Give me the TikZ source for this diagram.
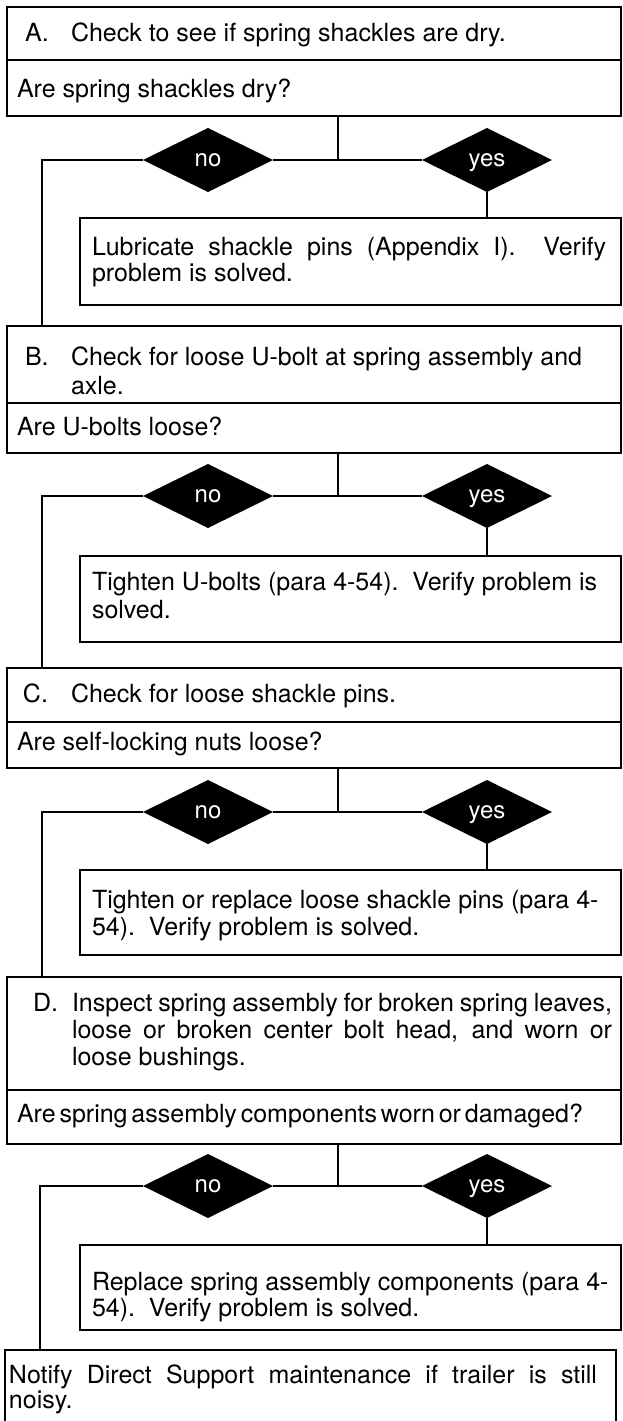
\documentclass[tikz,border=0pt]{standalone}
\usepackage{fontspec}
\setmainfont{TeX Gyre Heros}
\usetikzlibrary{shapes.geometric}
\newcommand\jl[2]{{\spaceskip=0.1em plus 1fil\relax\hbox to #1pt{#2}}}
\begin{document}
\begin{tikzpicture}[x=1pt,y=-1pt,
  box/.style={draw, line width=1.9pt, anchor=north west, inner sep=0pt, outer sep=0pt},
  txt/.style={anchor=base west, inner sep=0pt, outer sep=0pt, font=\fontsize{25}{27}\selectfont},
  dia/.style={diamond, fill=black, draw=none, minimum width=130pt, minimum height=64pt, inner sep=0pt, outer sep=0pt, text=white, text height=12.5pt, text depth=0pt, font=\fontsize{24}{26}\selectfont},
  wire/.style={line width=1.9pt}]
\useasboundingbox (0,0) rectangle (623,1421);
\fill[white] (0,0) rectangle (623,1421);

% ---------------- Section A
\node[box, minimum width=614pt, minimum height=109pt] (A) at (7,7) {};
\draw[wire] (A.west |- 0,60) -- (A.east |- 0,60);
\node[txt] (tAl) at (25,42) {A.};
\node[txt] (tA) at (71,42) {Check to see if spring shackles are dry.};
\node[txt] (qA) at (17,97) {Are spring shackles dry?};
\coordinate (jA) at (338,160);
\coordinate (cA) at (42,160);
\node[dia] (dnA) at (208,160) {no};
\node[dia] (dyA) at (487,160) {yes};
\node[box, minimum width=541pt, minimum height=87pt] (rA) at (80,218) {};
\node[txt] (rA1) at (92,255) {\jl{514}{Lubricate shackle pins (Appendix I).\ \ Verify}};
\node[txt] (rA2) at (92,281) {problem is solved.};

% ---------------- Section B
\node[box, minimum width=614pt, minimum height=127pt] (B) at (7,326) {};
\draw[wire] (B.west |- 0,403) -- (B.east |- 0,403);
\node[txt] (tBl) at (25,365) {B.};
\node[txt] (tB1) at (71,365) {Check for loose U-bolt at spring assembly and};
\node[txt] (tB2) at (71,394) {axle.};
\node[txt] (qB) at (17,435) {Are U-bolts loose?};
\coordinate (jB) at (338,496);
\coordinate (cB) at (42,496);
\node[dia] (dnB) at (208,496) {no};
\node[dia] (dyB) at (487,496) {yes};
\node[box, minimum width=541pt, minimum height=86pt] (rB) at (80,556) {};
\node[txt] (rB1) at (92,590) {Tighten U-bolts (para 4-54).\ \ Verify problem is};
\node[txt] (rB2) at (92,618) {solved.};

% ---------------- Section C
\node[box, minimum width=614pt, minimum height=100pt] (C) at (7,668) {};
\draw[wire] (C.west |- 0,722) -- (C.east |- 0,722);
\node[txt] (tCl) at (23,702) {C.};
\node[txt] (tC) at (71,702) {Check for loose shackle pins.};
\node[txt] (qC) at (17,750) {Are self-locking nuts loose?};
\coordinate (jC) at (338,812);
\coordinate (cC) at (42,812);
\node[dia] (dnC) at (208,812) {no};
\node[dia] (dyC) at (487,812) {yes};
\node[box, minimum width=541pt, minimum height=85pt] (rC) at (80,870) {};
\node[txt] (rC1) at (92,908) {Tighten or replace loose shackle pins (para 4-};
\node[txt] (rC2) at (92,935) {54).\ \ Verify problem is solved.};

% ---------------- Section D
\node[box, minimum width=614pt, minimum height=167pt] (D) at (7,977) {};
\draw[wire] (D.west |- 0,1090) -- (D.east |- 0,1090);
\node[txt] (tDl) at (33,1011) {D.};
\node[txt] (tD1) at (72,1011) {\jl{540}{Inspect spring assembly for broken spring leaves,}};
\node[txt] (tD2) at (72,1038) {\jl{540}{loose or broken center bolt head, and worn or}};
\node[txt] (tD3) at (72,1065) {loose bushings.};
\node[txt] (qD) at (17,1122) {\jl{566}{Are spring assembly components worn or damaged?}};
\coordinate (jD) at (338,1186);
\coordinate (cD) at (40,1186);
\node[dia] (dnD) at (208,1186) {no};
\node[dia] (dyD) at (487,1186) {yes};
\node[box, minimum width=541pt, minimum height=85pt] (rD) at (80,1245) {};
\node[txt] (rD1) at (92,1290) {Replace spring assembly components (para 4-};
\node[txt] (rD2) at (92,1316) {54).\ \ Verify problem is solved.};

% ---------------- Final box
\node[box, minimum width=611pt, minimum height=80pt] (N) at (5,1350) {};
\node[txt] (N1) at (9,1383) {\jl{588}{Notify Direct Support maintenance if trailer is still}};
\node[txt] (N2) at (9,1408) {noisy.};

% ---------------- Connectors
\foreach \s/\n in {A/B, B/C, C/D, D/N} {
  \draw[wire] (\s.south -| j\s) -- (j\s);
  \draw[wire] (dn\s.east) -- (dy\s.west);
  \draw[wire] (dn\s.west) -- (c\s) -- (c\s |- \n.north);
  \draw[wire] (dy\s.south) -- (dy\s.south |- r\s.north);
}
\end{tikzpicture}
\end{document}
